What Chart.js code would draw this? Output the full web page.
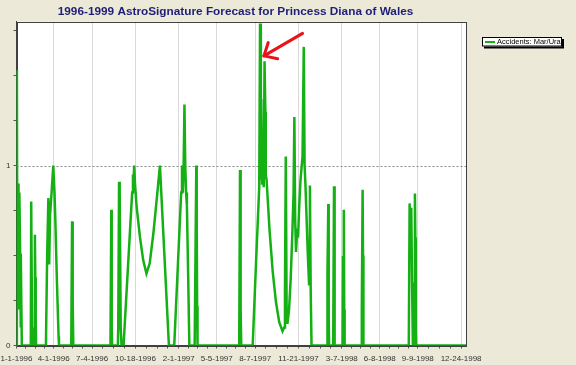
<!DOCTYPE html>
<html><head><meta charset="utf-8">
<script src="https://cdn.jsdelivr.net/npm/chart.js@4.4.0/dist/chart.umd.min.js"></script>
<style>html,body{margin:0;padding:0;background:#ECE9D8;overflow:hidden}canvas{display:block}</style>
</head><body>
<canvas id="c" width="576" height="365"></canvas>
<script>
const chartTitle = '1996-1999 AstroSignature Forecast for Princess Diana of Wales';
const seriesName = 'Accidents: Mar/Ura';
const xTickLabels = ['1-1-1996','4-1-1996','7-4-1996','10-18-1996','2-1-1997','5-5-1997','8-7-1997','11-21-1997','3-7-1998','6-8-1998','9-9-1998','12-24-1998'];
const yTickValues = [0,0.25,0.5,0.75,1,1.25,1.5,1.75];
const yLabeled = [0,1];
const xRangeDays = [0,1100];
const yRange = [0,1.8];
// days since 1-1-1996
const dayOffsets = [
 0,1,2,4,5,7,9,10,11,13,
 35,36,38,40,43,45,46,47,48,
 72,75,78,80,82,85,90,93,95,99,103,104,
 134,136,137,138,139,
 230,232,233,234,
 248,249,251,252,253,255,257,
 262,283,285,286,288,290,294,302,310,318,326,335,343,351,373,
 386,395,403,405,407,409,411,413,415,417,420,423,
 436,438,440,441,442,443,
 545,547,548,549,550,
 578,586,594,596,598,599,601,603,605,607,609,610,612,619,627,635,643,651,655,657,659,661,663,667,671,675,678,680,682,684,687,689,692,695,698,700,703,705,707,710,713,716,718,720,722,
 760,761,763,764,765,
 775,777,778,779,
 798,799,801,802,803,
 844,845,847,848,849,
 960,962,964,966,968,970,973,975,976,977,978,
 1100
];
const accidentValues = [
 0,1.53,0.3,0.9,0.2,0.85,0.5,0.1,0.51,0,
 0,0.8,0.1,0,0,0.615,0.38,0.15,0,
 0,0.5,0.82,0.45,0.72,0.82,1.0,0.85,0.7,0.35,0.05,0,
 0,0.69,0.34,0.25,0,
 0,0.755,0.1,0,
 0,0.1,0.91,0.3,0.86,0.1,0,
 0,0.85,0.95,0.88,1.0,0.9,0.77,0.605,0.475,0.40,0.457,0.624,0.81,1.0,0,
 0,0.45,0.85,1.0,0.85,1.0,1.34,1.0,0.85,0.78,0.4,0,
 0,0.5,1.0,0.72,0.22,0,
 0,0.975,0.63,0.2,0,
 0,0.45,0.88,1.79,0.92,1.37,0.9,1.0,0.88,1.58,1.3,0.95,0.92,0.65,0.41,0.24,0.13,0.08,0.1,0.3,1.05,0.2,0.12,0.2,0.37,0.62,0.85,1.27,0.7,0.52,0.65,0.6,0.78,0.92,1.0,1.05,1.66,1.0,0.9,0.7,0.5,0.34,0.89,0.3,0,
 0,0.4,0.787,0.15,0,
 0,0.885,0.44,0,
 0,0.49,0.755,0.2,0,
 0,0.19,0.866,0.5,0,
 0,0.79,0.6,0.765,0.35,0,0,0.845,0.6,0.1,0,
 0
];
const arrowFrom = [700, 1.735];
const arrowTo = [605.5, 1.61];

function dayOf(label){
  const p = label.split('-').map(Number);
  return Math.round((Date.UTC(p[2],p[0]-1,p[1]) - Date.UTC(1996,0,1))/86400000);
}
const majorDays = xTickLabels.map(dayOf);
const labelByDay = {};
majorDays.forEach((d,i)=>labelByDay[d]=xTickLabels[i]);
function buildXTicks(){
  const t = [];
  for (let i=0;i<majorDays.length;i++){
    t.push({value:majorDays[i], isMajor:true});
    const next = i+1<majorDays.length ? majorDays[i+1] : null;
    if (next!==null){
      for (let k=1;k<4;k++) t.push({value: majorDays[i]+(next-majorDays[i])*k/4, isMajor:false});
    }
  }
  return t;
}
const points = dayOffsets.map((d,i)=>({x:d,y:accidentValues[i]}));
const GREEN = '#14B014';

const decor = {
  id:'decor',
  beforeDraw(chart){
    const {ctx, chartArea:a} = chart;
    ctx.save();
    ctx.fillStyle='#ECE9D8'; ctx.fillRect(0,0,chart.width,chart.height);
    ctx.fillStyle='#FFFFFF'; ctx.fillRect(a.left,a.top,a.right-a.left,a.bottom-a.top);
    ctx.restore();
  },
  beforeDatasetsDraw(chart){
    const {ctx, chartArea:a, scales:{y}} = chart;
    ctx.save();
    ctx.strokeStyle='#8A8A8A'; ctx.lineWidth=1; ctx.setLineDash([2,2]);
    yLabeled.forEach(v=>{
      const py = Math.round(y.getPixelForValue(v))+0.5;
      ctx.beginPath(); ctx.moveTo(a.left,py); ctx.lineTo(a.right,py); ctx.stroke();
    });
    ctx.setLineDash([]);
    ctx.strokeStyle='#404040';
    ctx.strokeRect(Math.round(a.left)+0.5, Math.round(a.top)+0.5, Math.round(a.right-a.left)-1, Math.round(a.bottom-a.top));
    ctx.restore();
  },
  afterDraw(chart){
    const {ctx, chartArea:a, scales:{x,y}} = chart;
    ctx.save();
    // title
    ctx.fillStyle='#1E1E78';
    ctx.font='bold 11.8px "Liberation Sans", Arial, sans-serif';
    ctx.textAlign='center'; ctx.textBaseline='alphabetic';
    ctx.fillText(chartTitle, 235.5, 15);
    // legend
    const lx=482, ly=37, lw=80, lh=9.5;
    ctx.fillStyle='#000'; ctx.fillRect(lx+2,ly+2,lw,lh);
    ctx.fillStyle='#FFF'; ctx.fillRect(lx,ly,lw,lh);
    ctx.strokeStyle='#000'; ctx.lineWidth=1; ctx.strokeRect(lx+0.5,ly+0.5,lw-1,lh-1);
    const ds = chart.data.datasets[0];
    ctx.strokeStyle=ds.borderColor; ctx.lineWidth=2;
    ctx.beginPath(); ctx.moveTo(lx+3,ly+5); ctx.lineTo(lx+13,ly+5); ctx.stroke();
    ctx.fillStyle='#000'; ctx.font='7.5px "Liberation Sans", Arial, sans-serif';
    ctx.textAlign='left'; ctx.textBaseline='middle';
    ctx.fillText(ds.label, lx+15, ly+5.2);
    // arrow
    const x0=x.getPixelForValue(arrowFrom[0]), y0=y.getPixelForValue(arrowFrom[1]);
    const x1=x.getPixelForValue(arrowTo[0]), y1=y.getPixelForValue(arrowTo[1]);
    const ang=Math.atan2(y0-y1,x0-x1);
    ctx.strokeStyle='#E8141B'; ctx.lineWidth=3; ctx.lineCap='round'; ctx.lineJoin='round';
    ctx.beginPath(); ctx.moveTo(x0,y0); ctx.lineTo(x1,y1); ctx.stroke();
    ctx.beginPath();
    ctx.moveTo(x1+14*Math.cos(ang-0.73), y1+14*Math.sin(ang-0.73));
    ctx.lineTo(x1,y1);
    ctx.lineTo(x1+14*Math.cos(ang+0.73), y1+14*Math.sin(ang+0.73));
    ctx.stroke();
    ctx.restore();
  }
};

new Chart(document.getElementById('c'), {
  type:'line',
  data:{datasets:[{label:seriesName, data:points, borderColor:GREEN, borderWidth:2.5, pointRadius:0, tension:0, fill:false}]},
  options:{
    responsive:false, animation:false, events:[],
    layout:{padding:{top:21.7,right:110,left:0,bottom:0}},
    plugins:{legend:{display:false}, title:{display:false}, tooltip:{enabled:false}},
    scales:{
      x:{type:'linear', min:xRangeDays[0], max:xRangeDays[1],
        afterBuildTicks:s=>{s.ticks=buildXTicks();},
        afterFit:s=>{s.height=19.5; s.paddingLeft=0; s.paddingRight=0;},
        ticks:{autoSkip:false, maxRotation:0, minRotation:0, padding:5, color:'#333',
          font:{family:'"Liberation Sans", Arial, sans-serif', size:8},
          callback:(v)=> labelByDay[v]!==undefined ? labelByDay[v] : ''},
        grid:{drawOnChartArea:true, drawTicks:true, tickLength:3,
          color:c=> (c.tick && c.tick.isMajor) ? '#D9D9D9' : 'rgba(0,0,0,0)',
          tickColor:'#555'},
        border:{display:true, color:'#404040'}
      },
      y:{type:'linear', min:yRange[0], max:yRange[1],
        afterBuildTicks:s=>{s.ticks=yTickValues.map(v=>({value:v}));},
        afterFit:s=>{s.width=16.5; s.paddingTop=0; s.paddingBottom=0;},
        ticks:{autoSkip:false, padding:3, color:'#333',
          font:{family:'"Liberation Sans", Arial, sans-serif', size:8},
          callback:(v)=> yLabeled.includes(v) ? String(v) : ''},
        grid:{drawOnChartArea:false, drawTicks:true, tickLength:3, tickColor:'#555'},
        border:{display:true, color:'#404040'}
      }
    }
  },
  plugins:[decor]
});
</script>
</body></html>
